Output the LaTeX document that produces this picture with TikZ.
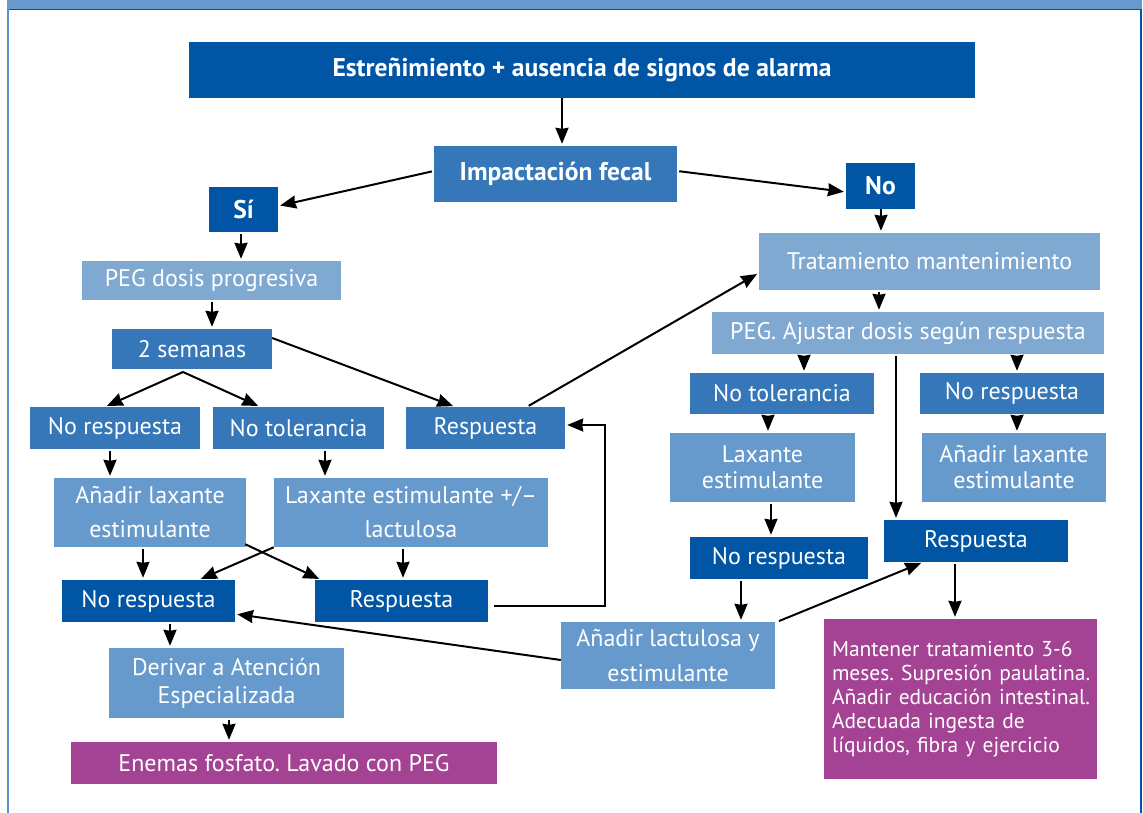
\documentclass[tikz,border=0pt]{standalone}
\usepackage{fontspec}
\setmainfont{PT Sans}
\usetikzlibrary{arrows.meta}
\frenchspacing
\definecolor{dk}{HTML}{0055A5}
\definecolor{md}{HTML}{3577B8}
\definecolor{lt}{HTML}{6699CC}
\definecolor{lx}{HTML}{80A9D2}
\definecolor{pu}{HTML}{A44293}
\definecolor{fr}{HTML}{5B8FCC}
\newcommand\Bx[8]{\node[box,fill=#6,minimum width={#4-#2},minimum height={#5-#3},#7] (#1) at ({(#2+#4)/2},{(#3+#5)/2}) {#8};}
\begin{document}
\begin{tikzpicture}[x=1pt,y=-1pt,
  box/.style={inner sep=0pt, text=white, font=\fontsize{24}{27}\selectfont, align=center},
  bold/.style={font=\fontsize{25.6}{28}\selectfont\bfseries},
  arr/.style={-{Stealth[length=16pt,width=13pt,inset=1pt]}, line width=2pt, shorten <=2pt, shorten >=2pt}]
\useasboundingbox (0,0) rectangle (1143,813);
% frame
\fill[lt] (7,0) rectangle (1142,9);
\draw[dk, line width=1.5pt] (7,9.5) -- (1142,9.5);
\draw[fr, line width=2pt] (8,9) -- (8,813);
\draw[dk, line width=2pt] (1141,9) -- (1141,813);
% nodes
\Bx{top}{189}{42}{975}{98}{dk}{bold}{Estreñimiento + ausencia de signos de alarma}
\Bx{imp}{434}{146}{677}{202}{md}{bold}{Impactación fecal}
\Bx{si}{209}{187}{278}{232}{dk}{bold}{Sí}
\Bx{no}{846}{163}{915}{209}{dk}{bold}{No}
\Bx{pegd}{82}{261}{341}{300}{lx}{}{PEG dosis progresiva}
\Bx{sem}{112}{329}{272}{369}{md}{}{2 semanas}
\Bx{nr1}{30}{407}{200}{449}{md}{}{No respuesta}
\Bx{nt1}{213}{407}{384}{449}{md}{}{No tolerancia}
\Bx{r1}{406}{407}{565}{449}{md}{}{Respuesta}
\Bx{al1}{54}{478}{246}{547}{lt}{font=\fontsize{24}{34}\selectfont}{Añadir laxante\\estimulante}
\Bx{le1}{274}{478}{548}{547}{lt}{font=\fontsize{24}{34}\selectfont}{Laxante estimulante +/–\\lactulosa}
\Bx{nr3}{62}{580}{235}{622}{dk}{}{No respuesta}
\Bx{r3}{315}{580}{488}{622}{dk}{}{Respuesta}
\Bx{der}{109}{648}{344}{718}{lt}{font=\fontsize{24}{28}\selectfont}{Derivar a Atención\\Especializada}
\Bx{ene}{71}{742}{497}{784}{pu}{}{Enemas fosfato. Lavado con PEG}
\Bx{trat}{759}{233}{1100}{290}{lx}{}{Tratamiento mantenimiento}
\Bx{pega}{712}{312}{1104}{354}{lx}{}{PEG. Ajustar dosis según respuesta}
\Bx{ntR}{690}{373}{874}{414}{md}{}{No tolerancia}
\Bx{nrR}{920}{373}{1104}{414}{md}{}{No respuesta}
\Bx{lxR}{670}{433}{855}{502}{lt}{font=\fontsize{24}{26}\selectfont}{Laxante\\estimulante}
\Bx{alR}{922}{433}{1106}{502}{lt}{font=\fontsize{24}{26}\selectfont}{Añadir laxante\\estimulante}
\Bx{nrR2}{690}{537}{868}{579}{dk}{}{No respuesta}
\Bx{rR2}{884}{520}{1068}{562}{dk}{}{Respuesta}
\Bx{all}{561}{622}{775}{689}{lt}{font=\fontsize{24}{35}\selectfont}{Añadir lactulosa y\\estimulante}
\Bx{mant}{824}{619}{1097}{779}{pu}{font=\fontsize{21.5}{24}\selectfont, text width=257pt, inner xsep=8pt, align=left}{\mbox{Mantener tratamiento 3-6}\\\mbox{meses. Supresión paulatina.}\\\mbox{Añadir educación intestinal.}\\\mbox{Adecuada ingesta de}\\\mbox{líquidos, fibra y ejercicio}}
% arrows
\draw[arr, shorten <=0pt] (562,0 |- top.south) -- (562,0 |- imp.north);
\draw[arr] (imp.west |- 0,171) -- (si.east |- 0,206);
\draw[arr] (imp.east |- 0,171) -- (no.west |- 0,192);
\draw[arr] (241,0 |- si.south) -- (241,0 |- pegd.north);
\draw[arr] (212,0 |- pegd.south) -- (212,0 |- sem.north);
\coordinate (fork) at (183,372);
\draw[arr, shorten <=0pt] (fork) -- (105,0 |- nr1.north);
\draw[arr, shorten <=0pt] (fork) -- (260,0 |- nt1.north);
\draw[arr, shorten <=0pt] (sem.east |- 0,338) -- (455,0 |- r1.north);
\draw[arr] (527,0 |- r1.north) -- (trat.west |- 0,273);
\draw[arr] (110,0 |- nr1.south) -- (110,0 |- al1.north);
\draw[arr] (325,0 |- nt1.south) -- (325,0 |- le1.north);
\draw[arr] (143,0 |- al1.south) -- (143,0 |- nr3.north);
\draw[arr, shorten <=0pt] (le1.south west) -- (199,0 |- nr3.north);
\draw[arr, shorten <=0pt] ([xshift=-1pt,yshift=3pt]al1.south east) -- (321,0 |- r3.north);
\draw[arr] (403,0 |- le1.south) -- (403,0 |- r3.north);
\coordinate (bend) at (605,425);
\draw[arr, shorten <=6pt] (r3.east |- 0,606) -| (bend) -- (r1.east |- bend);
\draw[arr] (170,0 |- nr3.south) -- (170,0 |- der.north);
\draw[arr] (229,0 |- der.south) -- (229,0 |- ene.north);
\draw[arr, shorten <=0pt] (all.west |- 0,660) -- (nr3.east |- 0,614);
\draw[arr, shorten <=0pt] (881,0 |- no.south) -- (881,0 |- trat.north);
\draw[arr] (879,0 |- trat.south) -- (879,0 |- pega.north);
\draw[arr] (804,0 |- pega.south) -- (804,0 |- ntR.north);
\draw[arr] (1017,0 |- pega.south) -- (1017,0 |- nrR.north);
\draw[arr] (896,0 |- pega.south) -- (896,0 |- rR2.north);
\draw[arr] (768,0 |- ntR.south) -- (768,0 |- lxR.north);
\draw[arr] (1017,0 |- nrR.south) -- (1017,0 |- alR.north);
\draw[arr] (771,0 |- lxR.south) -- (771,0 |- nrR2.north);
\draw[arr] (741,0 |- nrR2.south) -- (741,0 |- all.north);
\draw[arr] ([xshift=2pt]all.north east) -- (923,0 |- rR2.south);
\draw[arr] (955,0 |- rR2.south) -- (955,0 |- mant.north);
\end{tikzpicture}
\end{document}
